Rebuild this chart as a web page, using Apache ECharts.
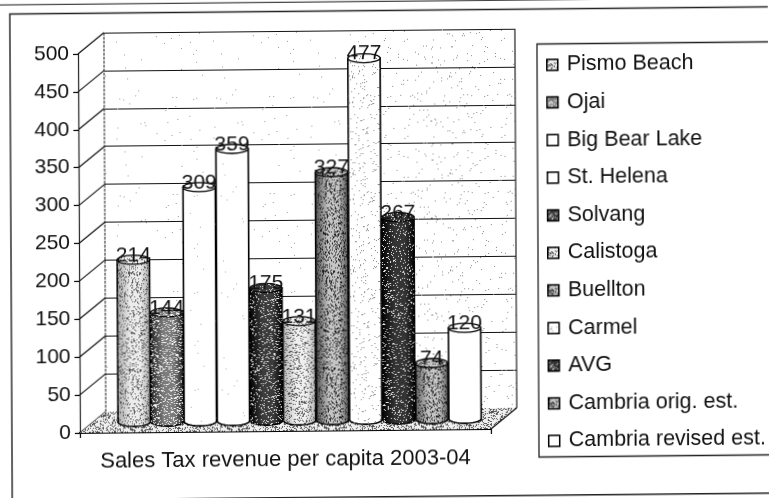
<!DOCTYPE html>
<html>
<head>
<meta charset="utf-8">
<style>
  html, body { margin: 0; padding: 0; background: #fff; overflow: hidden; }
  #chart { width: 769px; height: 498px; transform: matrix(1, -0.0095, 0.005, 1, 0, 0); }
</style>
<script src="https://cdn.jsdelivr.net/npm/echarts@6/dist/echarts.min.js"></script>
</head>
<body>
<div id="chart"></div>
<script>
// Per-capita sales tax revenue by city, one cylinder per city.
const cities = ['Pismo Beach', 'Ojai', 'Big Bear Lake', 'St. Helena', 'Solvang', 'Calistoga',
  'Buellton', 'Carmel', 'AVG', 'Cambria orig. est.', 'Cambria revised est.'];
const revenue = [214, 144, 309, 359, 175, 131, 327, 477, 267, 74, 120];
const axisTitle = 'Sales Tax revenue per capita 2003-04';
const axisMax = 500;
const axisStep = 50;
const tickValues = [0, 50, 100, 150, 200, 250, 300, 350, 400, 450, 500];

// Cylinder shading: edge tone, centre tone, speck colour, speck density.
const edgeTones = ['#a4a4a4', '#1e1e1e', '#ffffff', '#ffffff', '#000000', '#b0b0b0', '#4a4a4a', '#ffffff', '#000000', '#5a5a5a', '#ffffff'];
const midTones = ['#ececec', '#7c7c7c', '#ffffff', '#ffffff', '#3c3c3c', '#f0f0f0', '#c4c4c4', '#ffffff', '#343434', '#c4c4c4', '#ffffff'];
const speckColors = ['#555555', '#f0f0f0', '#aaaaaa', '#aaaaaa', '#e4e4e4', '#555555', '#222222', '#888888', '#e4e4e4', '#222222', '#aaaaaa'];
const speckDensity = [0.2, 0.22, 0.002, 0.002, 0.14, 0.22, 0.24, 0.04, 0.12, 0.24, 0];

const FONT = '"Liberation Sans", Arial, sans-serif';
const DEPTH_X = 26;   // horizontal reach of the floor and gridline returns
const DEPTH_Y = -21;  // vertical reach of the floor and gridline returns
const RIM = 4.5;      // vertical radius of a cylinder cap

// Stipple tile used as a halftone overlay; an optional base tone makes it opaque.
function stipple(color, density, base) {
  const size = 97;
  const c = document.createElement('canvas');
  c.width = c.height = size;
  const g = c.getContext('2d');
  if (base) {
    g.fillStyle = base;
    g.fillRect(0, 0, size, size);
  }
  g.fillStyle = color;
  for (let y = 0; y < size; y++) {
    for (let x = 0; x < size; x++) {
      const s = Math.sin(x * 12.9898 + y * 78.233) * 43758.5453;
      if (s - Math.floor(s) < density) g.fillRect(x, y, 1, 1);
    }
  }
  return { image: c, repeat: 'repeat' };
}

const overlays = cities.map((_, i) => stipple(speckColors[i], speckDensity[i]));
const swatches = cities.map((_, i) => stipple(speckColors[i], speckDensity[i], midTones[i]));

function cylinderSeries(i) {
  return {
    type: 'custom',
    name: cities[i],
    xAxisIndex: 2,
    yAxisIndex: 2,
    z: 5,
    encode: { x: 0, y: 1 },
    itemStyle: { color: midTones[i] },
    data: [[cities[i], revenue[i]]],
    renderItem: function (params, api) {
      const top = api.coord([api.value(0), api.value(1)]);
      const base = api.coord([api.value(0), 0]);
      const rx = api.size([1, 0])[0] / 2 - 0.4;
      const outline = [[top[0] - rx, top[1]]];
      for (let a = 180; a >= 0; a -= 10) {
        const t = a * Math.PI / 180;
        outline.push([base[0] + rx * Math.cos(t), base[1] + RIM * Math.sin(t)]);
      }
      outline.push([top[0] + rx, top[1]]);
      const fill = new echarts.graphic.LinearGradient(0, 0, 1, 0, [
        { offset: 0, color: edgeTones[i] },
        { offset: 0.4, color: midTones[i] },
        { offset: 0.7, color: midTones[i] },
        { offset: 1, color: edgeTones[i] }
      ]);
      const cap = { cx: top[0], cy: top[1], rx: rx, ry: RIM };
      return {
        type: 'group',
        children: [
          { type: 'polygon', shape: { points: outline }, style: { fill: fill, stroke: '#000', lineWidth: 1.6 } },
          { type: 'polygon', shape: { points: outline }, style: { fill: overlays[i] } },
          { type: 'ellipse', shape: cap, style: { fill: midTones[i], stroke: '#000', lineWidth: 1.3 } },
          { type: 'ellipse', shape: cap, style: { fill: overlays[i] } },
          {
            type: 'text', z2: 50,
            style: {
              x: top[0], y: top[1] + 6,
              text: String(api.value(1)),
              fill: '#111', font: '21px ' + FONT,
              textAlign: 'center', textVerticalAlign: 'bottom'
            }
          }
        ]
      };
    }
  };
}

const wallSpeckLight = stipple('#999999', 0.003);
const wallSpeckDense = stipple('#888888', 0.016);
const floorSpeck = stipple('#555555', 0.3);

const hiddenAxis = { show: false };

const option = {
  animation: false,
  backgroundColor: '#fff',
  textStyle: { fontFamily: FONT },
  // Outer page rules and the chart frame.
  graphic: [
    { type: 'rect', shape: { x: 11, y: 10.5, width: 800, height: 486.2 }, style: { fill: 'none', stroke: '#222', lineWidth: 1.4 }, z: 0 },
    { type: 'line', shape: { x1: -10, y1: 1.4, x2: 800, y2: 1.4 }, style: { stroke: '#444', lineWidth: 1.3 }, z: 0 }
  ],
  grid: [
    { left: 79, top: 51, width: 411, height: 379 },
    { left: 105, top: 30, width: 411, height: 379 },
    { left: 116.75, top: 40.6, width: 364, height: 379 }
  ],
  xAxis: [
    {
      type: 'category', gridIndex: 0, data: [axisTitle],
      axisLine: { lineStyle: { color: '#000', width: 2 } },
      axisTick: { show: true, length: 5, lineStyle: { color: '#000', width: 1.2 } },
      axisLabel: { color: '#111', fontSize: 22, fontFamily: FONT, margin: 18 }
    },
    { type: 'value', gridIndex: 1, min: 0, max: 1, ...hiddenAxis },
    { type: 'category', gridIndex: 2, data: cities, ...hiddenAxis }
  ],
  yAxis: [
    {
      type: 'value', gridIndex: 0, min: 0, max: axisMax, interval: axisStep,
      axisLine: { show: true, lineStyle: { color: '#222', width: 1.2 } },
      axisTick: { show: true, length: 5, lineStyle: { color: '#000', width: 1.2 } },
      axisLabel: { color: '#111', fontSize: 21, fontFamily: FONT, margin: 9 },
      splitLine: { show: false }
    },
    {
      type: 'value', gridIndex: 1, min: 0, max: axisMax, interval: axisStep,
      axisLine: { show: false }, axisTick: { show: false }, axisLabel: { show: false },
      splitLine: { show: true, lineStyle: { color: '#111', width: 1.2 } }
    },
    { type: 'value', gridIndex: 2, min: 0, max: axisMax, ...hiddenAxis }
  ],
  legend: {
    orient: 'vertical',
    left: 538,
    top: 45.5,
    padding: [10, 50, 5, 9],
    itemWidth: 11,
    itemHeight: 11,
    itemGap: 15.6,
    selectedMode: false,
    icon: 'rect',
    borderColor: '#222',
    borderWidth: 1.3,
    backgroundColor: '#fff',
    textStyle: { color: '#111', fontSize: 21.5, fontFamily: FONT, height: 22, lineHeight: 22, padding: [0, 0, 0, 4] },
    data: cities.map((name, i) => ({
      name: name,
      icon: 'rect',
      itemStyle: {
        color: swatches[i],
        borderColor: '#000',
        borderWidth: 1.5,
        decal: 'none'
      }
    }))
  },
  series: [
    // Back wall panel with its light grain and border.
    {
      type: 'custom', xAxisIndex: 1, yAxisIndex: 1, z: 1, silent: true,
      data: [[0, 0]],
      renderItem: function (params) {
        const b = params.coordSys;
        const split = b.x + b.width * 0.68;
        return {
          type: 'group',
          children: [
            { type: 'rect', shape: { x: b.x, y: b.y, width: b.width, height: b.height }, style: { fill: wallSpeckLight } },
            { type: 'rect', shape: { x: split, y: b.y, width: b.x + b.width - split, height: b.height }, style: { fill: wallSpeckDense } },
            { type: 'line', shape: { x1: b.x, y1: b.y, x2: b.x, y2: b.y + b.height }, style: { stroke: '#333', lineWidth: 1.1, lineDash: [3, 1] } },
            { type: 'line', shape: { x1: b.x + b.width, y1: b.y, x2: b.x + b.width, y2: b.y + b.height }, style: { stroke: '#222', lineWidth: 1.2 } }
          ]
        };
      }
    },
    // Gridline returns running from the front axis to the back wall.
    {
      type: 'custom', xAxisIndex: 0, yAxisIndex: 0, z: 2, silent: true,
      data: tickValues.map(v => [0, v]),
      encode: { y: 1 },
      renderItem: function (params, api) {
        const x = params.coordSys.x;
        const y = api.coord([0, api.value(1)])[1];
        return { type: 'line', shape: { x1: x, y1: y, x2: x + DEPTH_X, y2: y + DEPTH_Y }, style: { stroke: '#111', lineWidth: 1.2 } };
      }
    },
    // Stippled floor.
    {
      type: 'custom', xAxisIndex: 0, yAxisIndex: 0, z: 3, silent: true,
      data: [[0, 0]],
      renderItem: function (params) {
        const b = params.coordSys;
        const yb = b.y + b.height;
        const pts = [[b.x, yb], [b.x + b.width, yb], [b.x + b.width + DEPTH_X, yb + DEPTH_Y], [b.x + DEPTH_X, yb + DEPTH_Y]];
        return {
          type: 'group',
          children: [
            { type: 'polygon', shape: { points: pts }, style: { fill: '#f0f0f0' } },
            { type: 'polygon', shape: { points: pts }, style: { fill: floorSpeck } },
            { type: 'line', shape: { x1: b.x + b.width, y1: yb, x2: b.x + b.width + DEPTH_X, y2: yb + DEPTH_Y }, style: { stroke: '#111', lineWidth: 1.3 } }
          ]
        };
      }
    },
    ...cities.map((_, i) => cylinderSeries(i))
  ]
};

const chart = echarts.init(document.getElementById('chart'), null, { renderer: 'canvas' });
chart.setOption(option);
</script>
</body>
</html>
